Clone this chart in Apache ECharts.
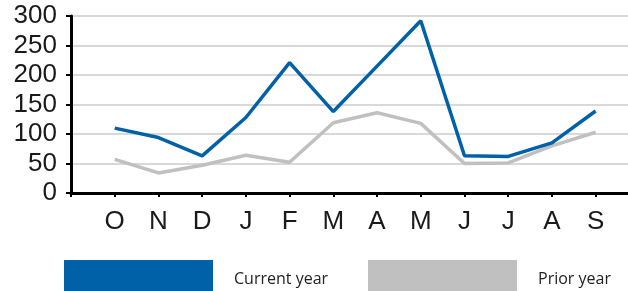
<!DOCTYPE html>
<html>
<head>
<meta charset="utf-8">
<script src="https://cdn.jsdelivr.net/npm/echarts@6/dist/echarts.min.js"></script>
<style>
html,body{margin:0;padding:0;background:#fff;}
#c{width:628px;height:291px;}
</style>
</head>
<body>
<div id="c"></div>
<script>
var months = ['O','N','D','J','F','M','A','M','J','J','A','S'];
var currentYear = [110, 94, 63, 128, 221, 138, 215, 292, 63, 62, 85, 139];
var priorYear = [57, 34, 47, 64, 52, 119, 136, 118, 50, 51, 80, 103];
var seriesNames = ['Current year', 'Prior year'];
var yTicks = [0, 50, 100, 150, 200, 250, 300];

function toPoints(arr){ return arr.map(function(v,i){ return [i+1, v]; }); }

var chart = echarts.init(document.getElementById('c'), null, {renderer:'canvas'});
chart.setOption({
  animation: false,
  grid: {left: 71, top: 16, bottom: 98, right: 0, containLabel: false},
  xAxis: {
    type: 'value', min: 0, max: 12.74, interval: 1,
    axisLine: {show: true, lineStyle: {color: '#000', width: 3}},
    axisTick: {show: true, length: 4, lineStyle: {color: '#000', width: 2}},
    splitLine: {show: false},
    axisLabel: {
      margin: 16, fontSize: 26, color: '#1a1a1a', fontFamily: 'Liberation Sans',
      showMaxLabel: false,
      formatter: function(v){ var i = Math.round(v); return (i>=1 && i<=months.length) ? months[i-1] : ''; }
    }
  },
  yAxis: {
    type: 'value', min: yTicks[0], max: yTicks[yTicks.length-1], interval: 50,
    axisLine: {show: true, lineStyle: {color: '#000', width: 3}},
    axisTick: {show: true, length: 5, lineStyle: {color: '#000', width: 2}},
    splitLine: {show: true, lineStyle: {color: '#d9d9d9', width: 2}},
    axisLabel: {margin: 14, fontSize: 26, color: '#1a1a1a', fontFamily: 'Liberation Sans'}
  },
  legend: [
    {data: [seriesNames[0]], left: 64, top: 260, padding: 0, itemWidth: 149, itemHeight: 38, icon: 'rect', itemGap: 0,
     textStyle: {fontSize: 16, color: '#222', fontFamily: 'Open Sans', padding: [0,0,0,16]}},
    {data: [seriesNames[1]], left: 368, top: 260, padding: 0, itemWidth: 149, itemHeight: 38, icon: 'rect', itemGap: 0,
     textStyle: {fontSize: 16, color: '#222', fontFamily: 'Open Sans', padding: [0,0,0,16]}}
  ],
  series: [
    {name: seriesNames[1], type: 'line', data: toPoints(priorYear), showSymbol: false, symbol: 'none',
     lineStyle: {color: '#c0c0c0', width: 3.5}, itemStyle: {color: '#c0c0c0'}, z: 2},
    {name: seriesNames[0], type: 'line', data: toPoints(currentYear), showSymbol: false, symbol: 'none',
     lineStyle: {color: '#0060a8', width: 3.5}, itemStyle: {color: '#0060a8'}, z: 3}
  ]
});
</script>
</body>
</html>
